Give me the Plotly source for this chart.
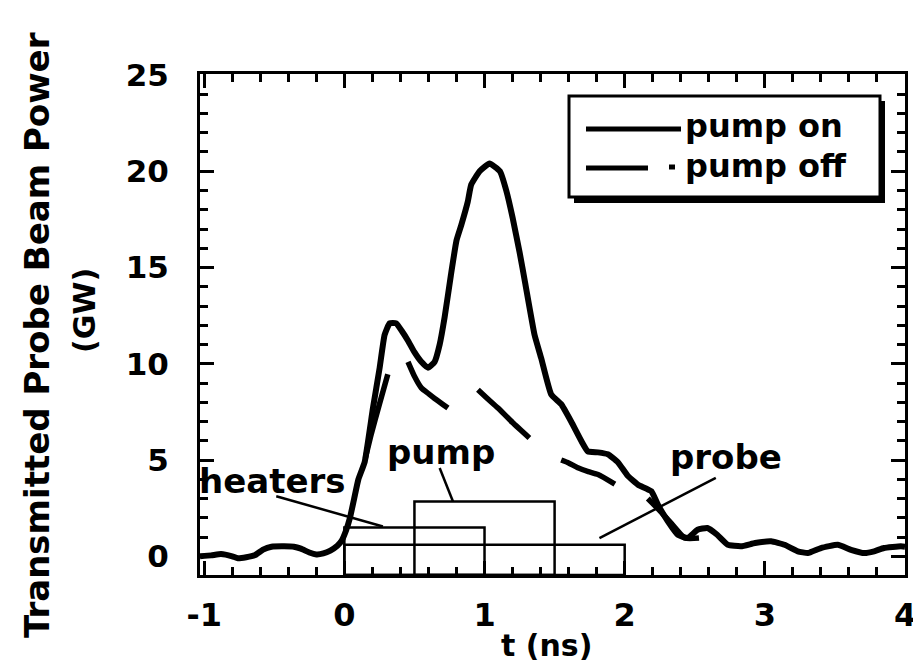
import plotly.graph_objects as go

# ---------------- data ----------------
pump_on_t = [-1.03, -0.95, -0.88, -0.80, -0.76, -0.70, -0.64, -0.58, -0.52, -0.43, -0.36,
             -0.31, -0.25, -0.20, -0.15, -0.10, -0.05, -0.02, 0.01, 0.04, 0.07, 0.10,
             0.145, 0.204, 0.252, 0.287, 0.323, 0.37, 0.41, 0.454, 0.50, 0.549, 0.596,
             0.644, 0.68, 0.715, 0.76, 0.80, 0.834, 0.88, 0.905, 0.965, 1.036, 1.11,
             1.155, 1.20, 1.25, 1.29, 1.357, 1.404, 1.476, 1.547, 1.618, 1.69, 1.737,
             1.81, 1.88, 1.95, 2.02, 2.095, 2.19, 2.237, 2.308, 2.38, 2.45, 2.52, 2.59,
             2.66, 2.736, 2.83, 2.93, 3.045, 3.14, 3.235, 3.307, 3.40, 3.52, 3.615,
             3.71, 3.78, 3.85, 3.97, 4.0]
pump_on_y = [0.0, 0.05, 0.12, 0.0, -0.1, -0.05, 0.05, 0.35, 0.5, 0.52, 0.5,
             0.4, 0.2, 0.1, 0.15, 0.3, 0.55, 0.8, 1.3, 2.0, 3.0, 4.0,
             4.9, 7.7, 9.8, 11.5, 12.1, 12.1, 11.7, 11.2, 10.6, 10.1, 9.8,
             10.1, 11.0, 12.4, 14.6, 16.4, 17.2, 18.4, 19.3, 20.0, 20.4, 20.0,
             19.0, 17.6, 15.8, 14.2, 11.5, 10.3, 8.4, 7.9, 7.0, 6.0, 5.45,
             5.4, 5.3, 4.9, 4.2, 3.72, 3.38, 2.68, 1.82, 1.12, 0.95, 1.38, 1.47,
             1.12, 0.6, 0.52, 0.69, 0.78, 0.6, 0.26, 0.17, 0.43, 0.6, 0.34,
             0.17, 0.26, 0.43, 0.52, 0.5]

# pump off: only the visible dashes of the dashed trace, gaps as None
pump_off_t = [0.15, 0.19, 0.25, 0.31, None,
              0.454, 0.50, 0.549, 0.60, 0.644, 0.739, None,
              0.953, 1.02, 1.096, 1.20, 1.32, None,
              1.547, 1.60, 1.666, 1.74, 1.81, 1.93, None,
              2.165, 2.24, 2.31, 2.43, 2.53]
pump_off_y = [5.1, 6.3, 7.9, 9.45, None,
              10.1, 9.35, 8.75, 8.45, 8.2, 7.7, None,
              8.65, 8.2, 7.7, 6.95, 6.15, None,
              5.0, 4.85, 4.6, 4.4, 4.25, 3.75, None,
              3.0, 2.45, 1.9, 0.95, 0.95]

pulse_names = ["heaters", "pump", "probe"]
pulse_start = [0.0, 0.5, 0.0]
pulse_end = [1.0, 1.5, 2.0]
pulse_top = [1.5, 2.85, 0.6]
label_t = [-0.51, 0.69, 2.72]
label_y = [3.9, 5.4, 5.15]
pointer_t0 = [-0.486, 0.68, 2.65]
pointer_y0 = [3.12, 4.59, 4.07]
pointer_t1 = [0.275, 0.775, 1.82]
pointer_y1 = [1.55, 2.85, 0.95]

x_tickvals = [-1, 0, 1, 2, 3, 4]
x_ticktext = ["-1", "0", "1", "2", "3", "4"]
y_tickvals = [0, 5, 10, 15, 20, 25]
y_ticktext = ["0", "5", "10", "15", "20", "25"]
legend_labels = ["pump on", "pump off"]
x_title = "t (ns)"
y_title = "Transmitted Probe Beam Power"
y_title2 = "(GW)"

X_RANGE = [-1.03, 4.0]
Y_RANGE = [-0.97, 25.05]

# ---------------- layout helpers (pixel geometry) ----------------
W, H = 921, 666
L, R, T, B = 192, 24, 66, 99
PX0, PX1, PY0, PY1 = L, W - R, T, H - B


def pxx(x):
    return (x - PX0) / (PX1 - PX0)


def pyy(y):
    return (PY1 - y) / (PY1 - PY0)


FONT = "DejaVu Sans"
BLACK = "#000000"

fig = go.Figure()

fig.add_trace(go.Scatter(x=pump_on_t, y=pump_on_y, mode="lines", name=legend_labels[0],
                         line=dict(color=BLACK, width=6, shape="spline", smoothing=0.4),
                         showlegend=False, hoverinfo="skip"))
fig.add_trace(go.Scatter(x=pump_off_t, y=pump_off_y, mode="lines", name=legend_labels[1],
                         line=dict(color=BLACK, width=5.5, shape="spline", smoothing=0.5),
                         connectgaps=False, showlegend=False, hoverinfo="skip"))

shapes = []
# pulse boxes, standing on the bottom axis
for s, e, top in zip(pulse_start, pulse_end, pulse_top):
    shapes.append(dict(type="rect", xref="x", yref="y", x0=s, x1=e, y0=Y_RANGE[0], y1=top,
                       line=dict(color=BLACK, width=2.5), fillcolor="rgba(0,0,0,0)", layer="above"))
# pointers from labels to boxes
for a, b, c, d in zip(pointer_t0, pointer_y0, pointer_t1, pointer_y1):
    shapes.append(dict(type="line", xref="x", yref="y", x0=a, y0=b, x1=c, y1=d,
                       line=dict(color=BLACK, width=2.5), layer="above"))

# legend box with drop shadow
shapes.append(dict(type="rect", xref="paper", yref="paper",
                   x0=pxx(566), x1=pxx(877), y0=pyy(195), y1=pyy(93),
                   line=dict(width=0), fillcolor=BLACK, layer="above"))
shapes.append(dict(type="rect", xref="paper", yref="paper",
                   x0=pxx(561), x1=pxx(872), y0=pyy(189), y1=pyy(88),
                   line=dict(color=BLACK, width=3), fillcolor="white", layer="above"))
# legend samples
shapes.append(dict(type="line", xref="paper", yref="paper", x0=pxx(578), x1=pxx(673),
                   y0=pyy(121), y1=pyy(121), line=dict(color=BLACK, width=5), layer="above"))
shapes.append(dict(type="line", xref="paper", yref="paper", x0=pxx(578), x1=pxx(640),
                   y0=pyy(160), y1=pyy(160), line=dict(color=BLACK, width=5), layer="above"))
shapes.append(dict(type="line", xref="paper", yref="paper", x0=pxx(661), x1=pxx(667),
                   y0=pyy(159), y1=pyy(159), line=dict(color=BLACK, width=5), layer="above"))

annotations = []
for name, t, y in zip(pulse_names, label_t, label_y):
    annotations.append(dict(x=t, y=y, xref="x", yref="y", text=name, showarrow=False,
                            font=dict(family=FONT, size=34, color=BLACK, weight="bold"),
                            xanchor="center", yanchor="middle"))
for lbl, ypix in zip(legend_labels, [118, 158]):
    annotations.append(dict(x=pxx(675), y=pyy(ypix), xref="paper", yref="paper", text=lbl,
                            showarrow=False, xanchor="left", yanchor="middle",
                            font=dict(family=FONT, size=32, color=BLACK, weight="bold")))
# axis titles
annotations.append(dict(x=pxx(538), y=pyy(637), xref="paper", yref="paper", text=x_title,
                        showarrow=False, xanchor="center", yanchor="middle",
                        font=dict(family=FONT, size=30, color=BLACK, weight="bold")))
annotations.append(dict(x=pxx(29), y=pyy(327), xref="paper", yref="paper", text=y_title,
                        showarrow=False, xanchor="center", yanchor="middle", textangle=-90,
                        font=dict(family=FONT, size=34, color=BLACK, weight="bold")))
annotations.append(dict(x=pxx(76), y=pyy(303), xref="paper", yref="paper", text=y_title2,
                        showarrow=False, xanchor="center", yanchor="middle", textangle=-90,
                        font=dict(family=FONT, size=30, color=BLACK, weight="bold")))

axis_common = dict(showline=True, linecolor=BLACK, linewidth=3, mirror="ticks",
                   ticks="inside", tickcolor=BLACK, tickwidth=3, ticklen=14,
                   showgrid=False, zeroline=False, automargin=False)

fig.update_layout(
    width=W, height=H,
    margin=dict(l=L, r=R, t=T, b=B, pad=0, autoexpand=False),
    paper_bgcolor="white", plot_bgcolor="white",
    showlegend=False,
    shapes=shapes, annotations=annotations,
    xaxis=dict(range=X_RANGE, tickvals=x_tickvals, ticktext=x_ticktext,
               tickfont=dict(family=FONT, size=32, color=BLACK, weight="bold"),
               ticklabelstandoff=10,
               minor=dict(dtick=0.2, tick0=0, ticks="inside", ticklen=8, tickwidth=3,
                          tickcolor=BLACK, showgrid=False),
               **axis_common),
    yaxis=dict(range=Y_RANGE, tickvals=y_tickvals, ticktext=y_ticktext,
               tickfont=dict(family=FONT, size=31, color=BLACK, weight="bold"),
               ticklabelstandoff=22,
               minor=dict(dtick=1, tick0=0, ticks="inside", ticklen=8, tickwidth=3,
                          tickcolor=BLACK, showgrid=False),
               **axis_common),
)

fig.write_html("out.html")
